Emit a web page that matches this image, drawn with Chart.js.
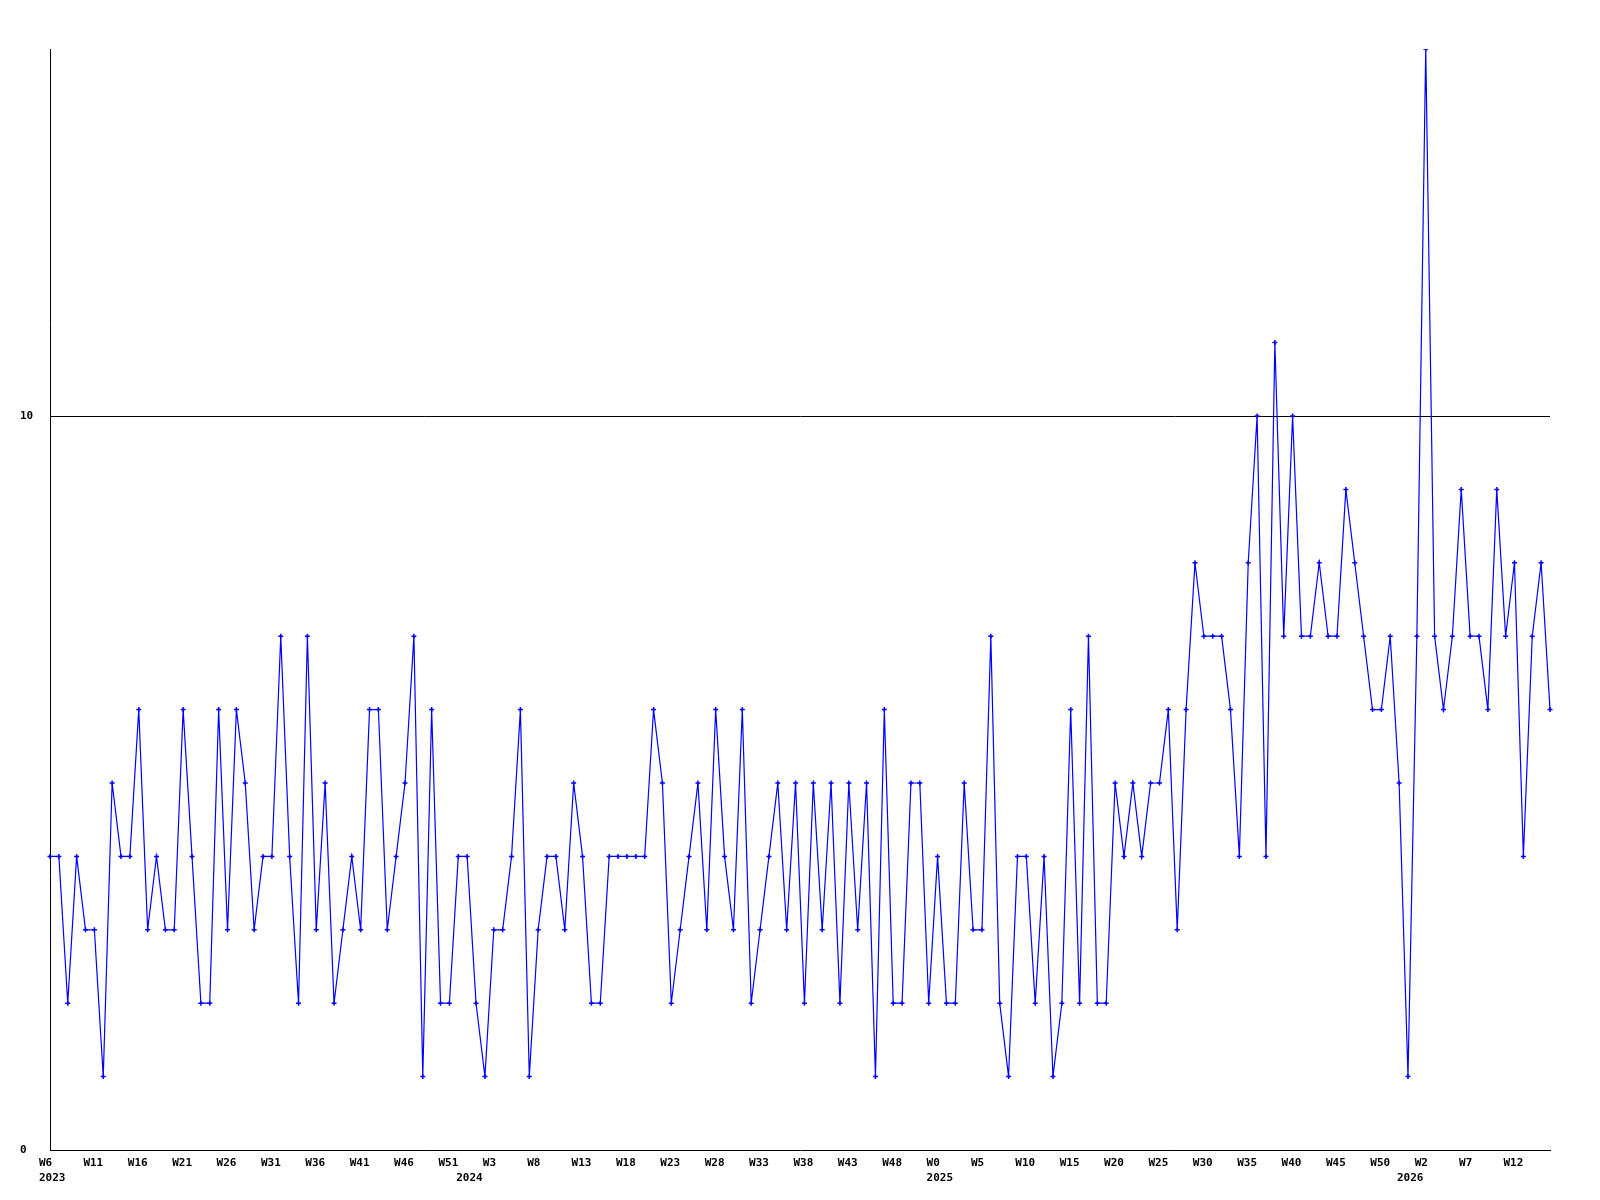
<!DOCTYPE html>
<html>
<head>
<meta charset="utf-8">
<title>Weekly counts</title>
<script src="https://cdn.jsdelivr.net/npm/chart.js@4.4.0/dist/chart.umd.min.js"></script>
<style>
  body { margin: 0; background: #fff; }
  #wrap { width: 1600px; height: 1200px; }
</style>
</head>
<body>
<div id="wrap"><canvas id="chart" width="1600" height="1200"></canvas></div>
<script>
// weeks per year shown on the axis
const years = [2023, 2024, 2025, 2026];
const firstWeek = [6, 0, 0, 0];
const lastWeek = [52, 52, 52, 16];

// weekly values
const counts2023 = [4,4,2,4,3,3,1,5,4,4, 6,3,4,3,3,6,4,2,2,6, 3,6,5,3,4,4,7,4,2,7,
  3,5,2,3,4,3,6,6,3,4, 5,7,1,6,2,2,4];
const counts2024 = [4,2,1,3,3,4,6,1,3,4, 4,3,5,4,2,2,4,4,4,4, 4,6,5,2,3,4,5,3,6,4,
  3,6,2,3,4,5,3,5,2,5, 3,5,2,5,3,5,1,6,2,2, 5,5,2];
const counts2025 = [4,2,2,5,3,3,7,2,1,4, 4,2,4,1,2,6,2,7,2,2, 5,4,5,4,5,5,6,3,6,8,
  7,7,7,6,4,8,10,4,11,7, 10,7,7,8,7,7,9,8,7,6, 6,7,5];
const counts2026 = [1,7,15,7,6,7,9,7,7,6, 9,7,8,4,7,8,6];

const yTicks = [0, 10];
const yMax = 15;
const labelEvery = 5;

// build category labels
const weekLabels = [];
const yearOf = [];
years.forEach((y, i) => {
  for (let w = firstWeek[i]; w <= lastWeek[i]; w++) {
    weekLabels.push('W' + w);
    yearOf.push(y);
  }
});
const values = [].concat(counts2023, counts2024, counts2025, counts2026);

const font = { family: "'DejaVu Sans Mono', monospace", size: 11, weight: 'bold', lineHeight: 1.4 };

// week label every 5th point, year label under the first week of each year
function tickLabel(v, i) {
  const week = i % labelEvery === 0 ? weekLabels[i] : '';
  const yearStart = i === 0 || yearOf[i] !== yearOf[i - 1];
  if (yearStart) return [week, String(yearOf[i])];
  return week;
}

new Chart(document.getElementById('chart'), {
  type: 'line',
  data: {
    labels: weekLabels,
    datasets: [{
      data: values,
      borderColor: '#0000ff',
      backgroundColor: '#0000ff',
      borderWidth: 1.2,
      tension: 0,
      pointStyle: 'cross',
      pointRadius: 2.5,
      pointBorderWidth: 1.5,
      pointBorderColor: '#0000ff'
    }]
  },
  options: {
    responsive: false,
    animation: false,
    layout: { padding: { left: 20, right: 50, top: 49, bottom: 0 } },
    plugins: { legend: { display: false }, tooltip: { enabled: false } },
    scales: {
      x: {
        grid: { display: false, drawTicks: false },
        border: { display: true, color: '#000', width: 1 },
        ticks: {
          autoSkip: false,
          maxRotation: 0,
          minRotation: 0,
          align: 'start',
          labelOffset: -11,
          padding: 5,
          color: '#000',
          font: font,
          callback: tickLabel
        },
        afterFit: s => { s.height = 50; }
      },
      y: {
        min: 0,
        max: yMax,
        afterBuildTicks: s => { s.ticks = yTicks.map(v => ({ value: v })); },
        grid: {
          drawTicks: false,
          color: ctx => (ctx.tick && ctx.tick.value === 10 ? '#000' : 'rgba(0,0,0,0)')
        },
        border: { display: true, color: '#000', width: 1 },
        ticks: {
          crossAlign: 'far',
          padding: 0,
          color: '#000',
          font: font
        },
        afterFit: s => { s.width = 30; }
      }
    }
  }
});
</script>
</body>
</html>
